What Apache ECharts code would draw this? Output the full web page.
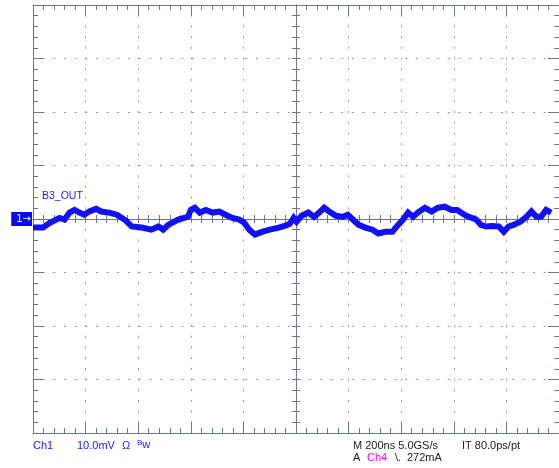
<!DOCTYPE html>
<html><head><meta charset="utf-8">
<script src="https://cdn.jsdelivr.net/npm/echarts@6/dist/echarts.min.js"></script>
<style>html,body{margin:0;padding:0;background:#fff;}#c{width:559px;height:468px;}</style>
</head><body><div id="c"></div>
<script>
// time in ns (trigger at 0), voltage in mV
const timeNs = [-1000,-962,-936,-899,-880,-861,-842,-824,-805,-786,-760,-741,-711,-681,-647,-625,-587,-550,-523,-505,-486,-448,-411,-400,-385,-366,-343,-317,-291,-268,-242,-216,-197,-178,-156,-130,-100,-66,-43,-24,-9,2,21,47,69,88,107,126,152,178,197,216,238,264,291,313,339,366,388,407,426,445,463,490,516,538,565,591,613,640,658,685,703,722,745,771,790,808,827,853,876,895,914,932,951,970];
const voltMv = [-1.6,-1.6,-0.7,0.2,-0.1,1.2,1.7,1.2,0.8,1.4,1.9,1.4,1.2,0.8,-0.3,-1.4,-1.6,-2.0,-1.4,-2.0,-1.1,-0.1,0.4,1.7,2.1,1.2,1.7,1.2,1.4,0.8,0.2,-0.1,-0.7,-2.0,-2.9,-2.4,-2.0,-1.6,-1.3,-0.9,0.2,-0.5,0.6,1.2,0.4,1.2,2.1,1.4,0.6,0.4,0.8,-0.1,-1.1,-1.6,-2.0,-2.7,-2.4,-2.4,-1.1,-0.1,1.2,0.4,1.2,2.1,1.4,2.1,2.3,1.7,1.7,0.8,0.4,-0.1,-1.1,-1.4,-1.3,-1.4,-2.4,-1.4,-1.1,-0.5,0.4,1.4,0.4,0.4,1.7,1.2];
const xMin = -1000, xMax = 1000, xStep = 200;
const yMin = -40, yMax = 40, yStep = 10;

const border = '#6e7698';
const dots = '#9098b4';
const font = 'Liberation Sans';

function xAx(extra){
  return Object.assign({type:'value',min:xMin,max:xMax,interval:xStep,
    axisLabel:{show:false},splitLine:{show:false},
    axisLine:{show:true,onZero:false,lineStyle:{color:border,width:1}},
    axisTick:{show:true,inside:true,length:11,lineStyle:{color:border}},
    minorTick:{show:true,splitNumber:5,length:5,lineStyle:{color:border}}},extra);
}
function yAx(extra){
  return Object.assign({type:'value',min:yMin,max:yMax,interval:yStep,
    axisLabel:{show:false},splitLine:{show:false},
    axisLine:{show:true,onZero:false,lineStyle:{color:border,width:1}},
    axisTick:{show:true,inside:true,length:11,lineStyle:{color:border}},
    minorTick:{show:true,splitNumber:5,length:5,lineStyle:{color:border}}},extra);
}
const cIn = {show:true,inside:true,length:4,lineStyle:{color:border}};
const cOut = {show:true,inside:false,length:4,lineStyle:{color:border}};
const cMinor = {show:true,splitNumber:5,length:4,lineStyle:{color:border}};
const cLine = {show:true,onZero:true,onZeroAxisIndex:0,lineStyle:{color:border,width:1}};

function txt(text,left,top,color,extra){
  return Object.assign({text:text,left:left,top:top,padding:0,itemGap:0,
    textStyle:{color:color,fontSize:11,fontWeight:'normal',fontFamily:font}},extra||{});
}
const blue = '#1c1cf0';
const dark = '#222222';

const option = {
  animation:false,
  backgroundColor:'#ffffff',
  grid:{left:33,top:5,width:533,height:428,show:false},
  xAxis:[
    xAx({position:'bottom',splitLine:{show:true,lineStyle:{color:dots,width:1,type:[2,8.7],dashOffset:1}}}),
    xAx({position:'top'}),
    xAx({position:'bottom',axisLine:cLine,axisTick:cIn,minorTick:cMinor}),
    xAx({position:'bottom',axisLine:cLine,axisTick:cOut,minorTick:cMinor})
  ],
  yAxis:[
    yAx({position:'left',splitLine:{show:true,lineStyle:{color:dots,width:1,type:[2,8.66],dashOffset:1}},
      axisLabel:{show:true,inside:false,margin:1,
        formatter:function(v){return v===0?'{m|1\u2192}':'';},
        rich:{m:{color:'#ffffff',backgroundColor:'#0a0af0',padding:[2,1,2,5],fontSize:10,fontFamily:'DejaVu Sans'}}}}),
    yAx({position:'right'}),
    yAx({position:'left',axisLine:cLine,axisTick:cIn,minorTick:cMinor}),
    yAx({position:'left',axisLine:cLine,axisTick:cOut,minorTick:cMinor})
  ],
  title:[
    txt('B3_OUT',42,191,'#1a1aff',{textStyle:{color:'#1a1aff',fontSize:10.5,fontWeight:'normal',fontFamily:font}}),
    txt('Ch1',33,440,blue),
    txt('10.0mV',77,440,blue),
    txt('\u03A9',122,440,blue),
    txt('{s|B}w',137,439,blue,{textStyle:{color:blue,fontSize:11,fontWeight:'normal',fontFamily:font,
      rich:{s:{fontSize:8,color:blue,fontFamily:font,padding:[0,0,4,0]}}}}),
    txt('M 200ns 5.0GS/s',353,440,dark),
    txt('IT 80.0ps/pt',462,440,dark),
    txt('A',353,452,dark),
    txt('Ch4',367,452,'#ff00ff'),
    txt('\\.',395,452,dark),
    txt('272mA',407,452,dark)
  ],
  series:[{
    type:'line',xAxisIndex:0,yAxisIndex:0,
    data:timeNs.map(function(t,i){return [t,voltMv[i]];}),
    showSymbol:false,smooth:false,
    lineStyle:{color:'#1010ff',width:6,join:'miter'},
    z:10
  }]
};
const chart = echarts.init(document.getElementById('c'),null,{renderer:'canvas'});
chart.setOption(option);
</script></body></html>
